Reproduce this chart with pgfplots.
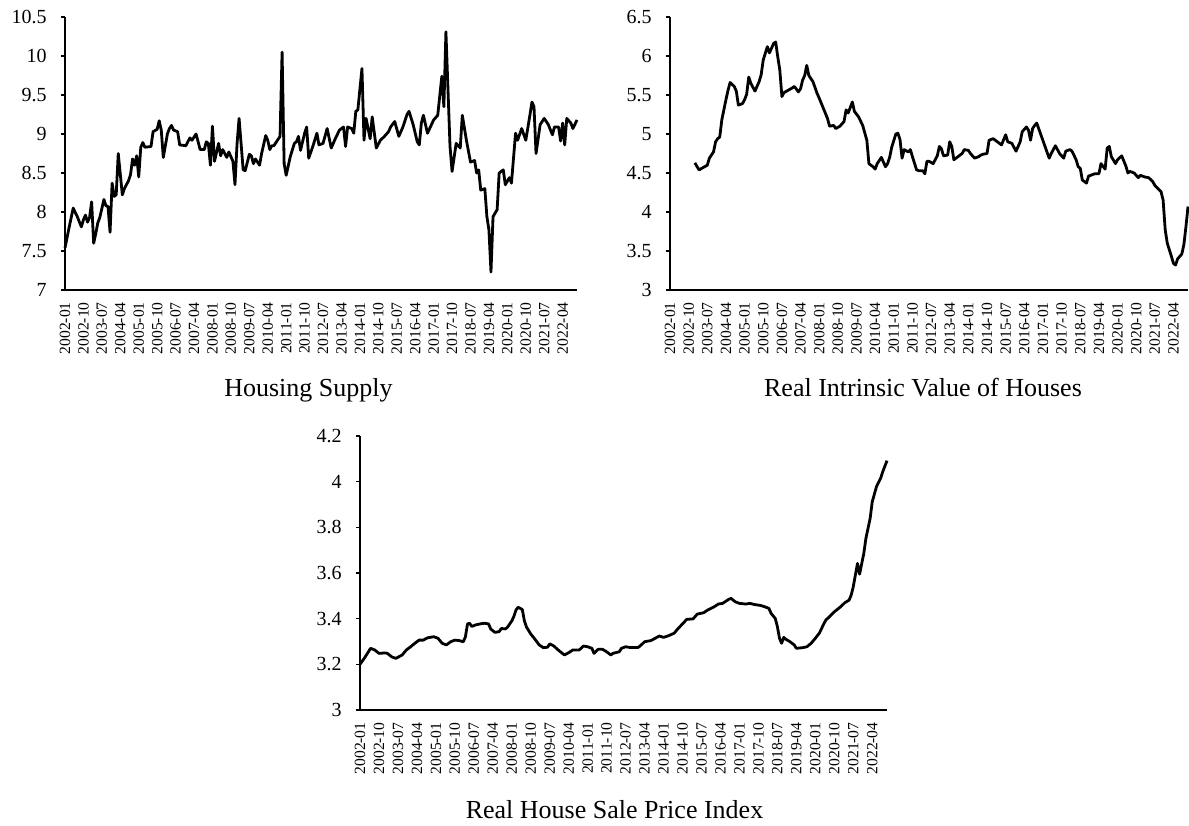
\documentclass[border=0pt]{standalone}
\usepackage{pgfplots}
\pgfplotsset{compat=1.18}
\usepackage{pgfplotstable}
\usepackage{fontspec}
\setmainfont{Liberation Serif}

\pgfplotstableread{
m v
0 7.54
2 7.80
4 8.05
6 7.94
8 7.81
9 7.90
10 7.96
11 7.87
12 7.93
13 8.13
14 7.60
15 7.72
16 7.86
17 7.93
19 8.16
20 8.08
21 8.07
22 7.74
23 8.37
24 8.20
25 8.22
26 8.75
28 8.22
29 8.30
31 8.40
32 8.48
33 8.68
34 8.60
35 8.72
36 8.45
37 8.83
38 8.89
39 8.83
42 8.84
43 9.03
45 9.06
46 9.17
47 9.05
48 8.70
50 9.00
51 9.07
52 9.11
53 9.05
55 9.03
56 8.86
59 8.85
61 8.95
62 8.92
64 9.00
66 8.80
68 8.80
69 8.90
70 8.88
71 8.60
72 9.10
73 8.65
75 8.88
76 8.72
77 8.80
79 8.70
80 8.77
82 8.65
83 8.35
84 8.87
85 9.20
87 8.54
88 8.53
90 8.74
91 8.72
92 8.62
93 8.68
95 8.60
96 8.75
98 8.98
99 8.92
100 8.80
101 8.85
102 8.85
104 8.93
105 8.97
106 10.05
107 8.62
108 8.47
110 8.71
112 8.88
113 8.90
114 8.97
115 8.79
117 9.01
118 9.09
119 8.69
121 8.84
123 9.01
124 8.86
126 8.88
128 9.07
130 8.82
132 8.94
134 9.05
136 9.09
137 8.84
138 9.09
140 9.07
141 9.01
142 9.29
143 9.31
145 9.84
146 8.92
147 9.20
149 8.94
150 9.22
152 8.82
154 8.92
156 8.97
158 9.03
159 9.09
161 9.16
163 8.97
165 9.09
167 9.25
168 9.29
170 9.12
172 8.90
173 8.86
174 9.14
175 9.24
177 9.01
180 9.18
182 9.24
184 9.74
185 9.35
186 10.31
188 8.84
189 8.52
191 8.88
193 8.82
194 9.24
196 8.92
198 8.64
200 8.66
201 8.50
202 8.54
203 8.28
205 8.30
206 7.94
207 7.77
208 7.23
209 7.94
211 8.03
212 8.50
214 8.54
215 8.35
217 8.44
218 8.37
220 9.01
221 8.92
223 9.07
225 8.92
227 9.24
228 9.41
229 9.35
230 8.75
232 9.12
234 9.20
236 9.12
238 8.99
239 9.09
241 9.09
242 8.91
243 9.14
244 8.86
245 9.20
247 9.14
248 9.07
250 9.18
}\supply

\pgfplotstableread{
m v
12 4.63
14 4.54
16 4.57
18 4.60
19 4.69
21 4.77
22 4.90
23 4.94
24 4.96
25 5.18
27 5.44
28 5.56
29 5.66
31 5.61
32 5.55
33 5.37
35 5.39
36 5.44
37 5.51
38 5.73
39 5.65
41 5.55
43 5.67
44 5.76
45 5.95
47 6.12
48 6.04
50 6.16
51 6.18
52 5.99
53 5.82
54 5.48
55 5.53
57 5.56
59 5.59
60 5.61
62 5.54
63 5.58
64 5.69
65 5.75
66 5.88
67 5.75
69 5.67
71 5.52
72 5.46
74 5.33
76 5.20
77 5.10
79 5.11
80 5.07
82 5.10
84 5.16
85 5.31
86 5.27
88 5.41
89 5.29
91 5.22
93 5.11
95 4.92
96 4.62
98 4.58
99 4.55
100 4.62
102 4.70
104 4.58
105 4.62
106 4.70
107 4.83
109 5.00
110 5.01
111 4.93
112 4.69
113 4.80
115 4.77
116 4.80
117 4.71
119 4.54
120 4.53
122 4.53
123 4.49
124 4.65
125 4.65
127 4.62
129 4.72
130 4.84
131 4.81
132 4.72
134 4.73
135 4.90
136 4.84
137 4.67
139 4.71
141 4.75
142 4.80
144 4.79
145 4.75
147 4.69
149 4.71
150 4.73
151 4.74
153 4.75
154 4.92
156 4.94
158 4.90
160 4.86
162 4.99
163 4.90
165 4.88
167 4.78
169 4.90
170 5.03
172 5.09
173 5.05
174 4.92
175 5.07
176 5.11
177 5.14
179 4.99
181 4.84
183 4.69
184 4.75
186 4.85
188 4.75
190 4.69
191 4.78
193 4.80
194 4.78
196 4.67
197 4.58
198 4.56
199 4.41
201 4.37
202 4.46
205 4.49
207 4.49
208 4.62
210 4.55
211 4.82
212 4.84
213 4.71
215 4.62
216 4.67
218 4.72
220 4.59
221 4.50
222 4.52
224 4.50
226 4.44
227 4.47
229 4.45
231 4.44
233 4.39
234 4.34
237 4.26
238 4.15
239 3.77
240 3.60
242 3.43
243 3.34
244 3.32
245 3.40
247 3.46
248 3.58
249 3.81
250 4.07
}\intrinsic

\pgfplotstableread{
m v
0 3.200
2 3.226
4 3.255
5 3.270
7 3.263
9 3.248
12 3.250
13 3.248
15 3.233
17 3.226
20 3.241
22 3.263
24 3.277
26 3.292
28 3.306
30 3.306
32 3.316
35 3.321
37 3.314
39 3.292
41 3.285
43 3.299
45 3.306
47 3.304
49 3.299
50 3.320
51 3.377
52 3.380
53 3.366
55 3.373
57 3.377
59 3.380
61 3.377
62 3.355
64 3.340
66 3.343
67 3.357
69 3.355
70 3.363
72 3.390
73 3.410
74 3.438
75 3.450
77 3.440
78 3.390
79 3.363
81 3.333
83 3.310
85 3.285
87 3.273
89 3.275
90 3.290
92 3.280
94 3.263
96 3.248
97 3.241
99 3.251
101 3.263
104 3.263
106 3.280
108 3.277
110 3.270
111 3.248
113 3.266
115 3.266
117 3.255
119 3.241
120 3.248
123 3.255
124 3.270
126 3.277
128 3.274
132 3.274
134 3.290
135 3.299
138 3.304
140 3.314
142 3.324
144 3.318
146 3.324
149 3.336
151 3.358
153 3.377
155 3.397
158 3.399
160 3.420
163 3.426
165 3.438
168 3.452
170 3.464
172 3.467
175 3.485
176 3.489
178 3.474
180 3.467
183 3.464
185 3.467
187 3.462
190 3.458
192 3.452
194 3.445
195 3.423
197 3.401
198 3.365
199 3.314
200 3.292
201 3.318
202 3.310
204 3.299
206 3.285
207 3.270
210 3.273
212 3.277
214 3.292
216 3.314
218 3.338
220 3.377
221 3.394
223 3.411
225 3.430
228 3.452
230 3.470
232 3.481
233 3.503
234 3.540
235 3.591
236 3.642
237 3.595
239 3.686
240 3.752
242 3.839
243 3.912
245 3.978
247 4.015
248 4.044
250 4.092
}\saleprice

\begin{document}
\begin{tikzpicture}
\useasboundingbox (0,0) rectangle (594.5pt,412.5pt);
\pgfplotsset{
  panel/.style={
    scale only axis,
    axis x line*=bottom, axis y line*=left,
    axis line style={-, line width=0.9pt, black},
    xmin=0, xmax=250,
    xtick={0,9,...,243},
    xticklabels={2002-01,2002-10,2003-07,2004-04,2005-01,2005-10,2006-07,2007-04,2008-01,2008-10,2009-07,2010-04,2011-01,2011-10,2012-07,2013-04,2014-01,2014-10,2015-07,2016-04,2017-01,2017-10,2018-07,2019-04,2020-01,2020-10,2021-07,2022-04},
    x tick style={draw=none},
    xticklabel style={rotate=90, anchor=east, inner sep=0pt, font=\fontsize{7.8pt}{8pt}\selectfont},
    xticklabel shift=4pt,
    y tick style={line width=0.8pt, black},
    tick align=outside,
    major tick length=2pt,
    yticklabel style={font=\fontsize{10pt}{12pt}\selectfont, anchor=east, inner sep=0pt},
    yticklabel shift=7pt,
    /pgf/number format/assume math mode=true,
    clip=false,
  },
  dataline/.style={black, line width=1.4pt, line join=round, mark=none},
}

\begin{axis}[panel, at={(32.5pt,267.5pt)}, anchor=south west, width=256pt, height=136.5pt,
  ymin=7, ymax=10.5, ytick={7,7.5,8,8.5,9,9.5,10,10.5},
  yticklabels={7,7.5,8,8.5,9,9.5,10,10.5}]
\addplot[dataline] table[x=m, y=v] {\supply};
\end{axis}

\begin{axis}[panel, at={(335pt,267.5pt)}, anchor=south west, width=259pt, height=136.5pt,
  ymin=3, ymax=6.5, ytick={3,3.5,4,4.5,5,5.5,6,6.5},
  yticklabels={3,3.5,4,4.5,5,5.5,6,6.5}]
\addplot[dataline] table[x=m, y=v] {\intrinsic};
\end{axis}

\begin{axis}[panel, at={(180pt,57.5pt)}, anchor=south west, width=263.5pt, height=137pt,
  ymin=3, ymax=4.2, ytick={3,3.2,3.4,3.6,3.8,4,4.2},
  yticklabels={3,3.2,3.4,3.6,3.8,4,4.2}]
\addplot[dataline] table[x=m, y=v] {\saleprice};
\end{axis}

\node[anchor=base, font=\fontsize{13pt}{15pt}\selectfont] at (154.25pt,214pt) {Housing Supply};
\node[anchor=base, font=\fontsize{13pt}{15pt}\selectfont] at (461.5pt,214pt) {Real Intrinsic Value of Houses};
\node[anchor=base, font=\fontsize{13pt}{15pt}\selectfont] at (307.25pt,3.5pt) {Real House Sale Price Index};
\end{tikzpicture}
\end{document}
